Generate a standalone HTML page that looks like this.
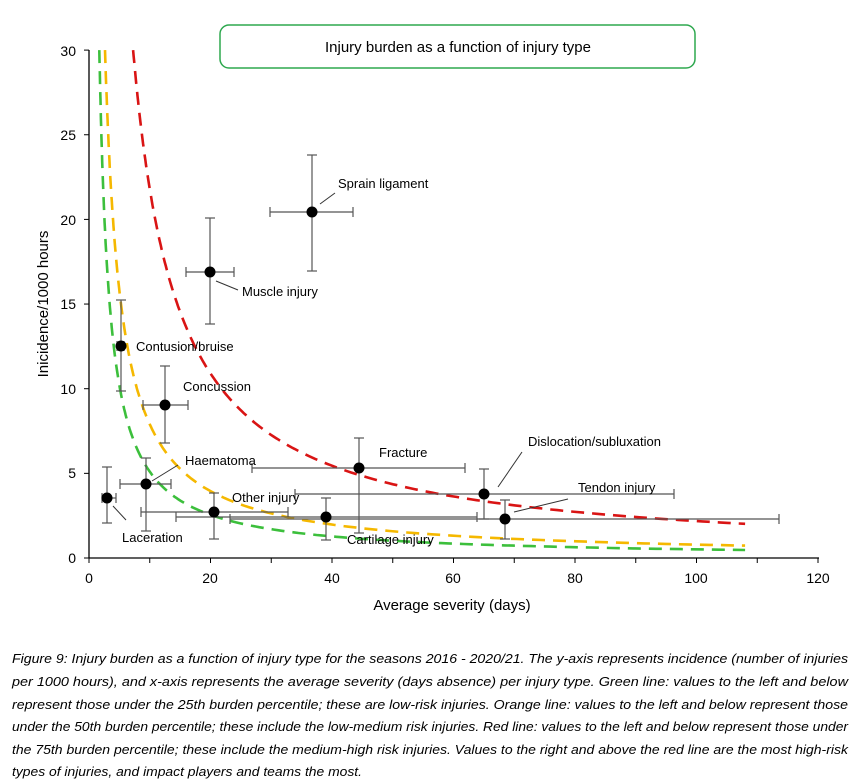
<!DOCTYPE html>
<html><head><meta charset="utf-8"><style>
body{margin:0;background:#fff;width:863px;height:779px;overflow:hidden}
svg{display:block}
text{font-family:"Liberation Sans",sans-serif;fill:#000}
</style></head><body>
<svg id="s" width="863" height="779" xmlns="http://www.w3.org/2000/svg">
<rect x="220" y="25" width="475" height="43" rx="9" fill="#fff" stroke="#2ea84f" stroke-width="1.5"/>
<text x="458" y="52" font-size="15" text-anchor="middle">Injury burden as a function of injury type</text>
<g stroke="#000" stroke-width="1.3" fill="none">
<line x1="89" y1="50" x2="89" y2="558"/>
<line x1="89" y1="558" x2="819" y2="558"/>
</g>
<g id="ticks" stroke="#000" stroke-width="1"></g>
<g font-size="14" text-anchor="end">
<text x="76" y="563">0</text><text x="76" y="478">5</text><text x="76" y="394">10</text>
<text x="76" y="309">15</text><text x="76" y="225">20</text><text x="76" y="140">25</text><text x="76" y="56">30</text>
</g>
<g font-size="14" text-anchor="middle">
<text x="89" y="583">0</text><text x="210" y="583">20</text><text x="332" y="583">40</text>
<text x="453" y="583">60</text><text x="575" y="583">80</text><text x="696" y="583">100</text><text x="818" y="583">120</text>
</g>
<text x="452" y="610" font-size="15" text-anchor="middle">Average severity (days)</text>
<text transform="translate(48,304) rotate(-90)" font-size="15" text-anchor="middle">Inicidence/1000 hours</text>
<path id="g" fill="none" stroke="#3cbf3c" stroke-width="2.6" stroke-dasharray="13,8"/>
<path id="o" fill="none" stroke="#f5b800" stroke-width="2.6" stroke-dasharray="13,8"/>
<path id="r" fill="none" stroke="#d91414" stroke-width="2.6" stroke-dasharray="13,8"/>
<g id="eb" stroke="#555" stroke-width="1.2" fill="none"></g>
<g id="pts" fill="#000"></g>
<g stroke="#333" stroke-width="1">
<line x1="113" y1="506" x2="126" y2="520"/>
<line x1="152" y1="481" x2="178" y2="465"/>
<line x1="216" y1="281" x2="238" y2="290"/>
<line x1="320" y1="204" x2="335" y2="193"/>
<line x1="498" y1="487" x2="522" y2="452"/>
<line x1="514" y1="512" x2="568" y2="499"/>
</g>
<g font-size="13">
<text x="338" y="188">Sprain ligament</text>
<text x="242" y="296">Muscle injury</text>
<text x="136" y="351">Contusion/bruise</text>
<text x="183" y="391">Concussion</text>
<text x="379" y="457">Fracture</text>
<text x="528" y="446">Dislocation/subluxation</text>
<text x="578" y="492">Tendon injury</text>
<text x="185" y="465">Haematoma</text>
<text x="232" y="502">Other injury</text>
<text x="122" y="542">Laceration</text>
<text x="347" y="544">Cartilage injury</text>
</g>
<g font-size="13" font-style="italic">
<text x="12" y="663" textLength="836" lengthAdjust="spacingAndGlyphs">Figure 9: Injury burden as a function of injury type for the seasons 2016 - 2020/21. The y-axis represents incidence (number of injuries</text>
<text x="12" y="686" textLength="836" lengthAdjust="spacingAndGlyphs">per 1000 hours), and x-axis represents the average severity (days absence) per injury type. Green line: values to the left and below</text>
<text x="12" y="709" textLength="836" lengthAdjust="spacingAndGlyphs">represent those under the 25th burden percentile; these are low-risk injuries. Orange line: values to the left and below represent those</text>
<text x="12" y="731" textLength="836" lengthAdjust="spacingAndGlyphs">under the 50th burden percentile; these include the low-medium risk injuries. Red line: values to the left and below represent those under</text>
<text x="12" y="754" textLength="836" lengthAdjust="spacingAndGlyphs">the 75th burden percentile; these include the medium-high risk injuries. Values to the right and above the red line are the most high-risk</text>
<text x="12" y="776" textLength="350" lengthAdjust="spacingAndGlyphs">types of injuries, and impact players and teams the most.</text>
</g>
</svg>
<script>
var NS="http://www.w3.org/2000/svg";
function X(v){return 89+v*6.075}function Y(v){return 558-v*16.93}
function curve(id,k){var x0=k/30,d="";for(var i=0;i<=200;i++){var x=x0*Math.pow(108/x0,i/200);d+=(i?"L":"M")+X(x).toFixed(1)+","+Y(k/x).toFixed(1)}document.getElementById(id).setAttribute("d",d)}
curve("g",51);curve("o",79);curve("r",218);
var t=document.getElementById("ticks");
function ln(p,a,b,c,d){var l=document.createElementNS(NS,"line");l.setAttribute("x1",a);l.setAttribute("y1",b);l.setAttribute("x2",c);l.setAttribute("y2",d);p.appendChild(l)}
for(var i=0;i<=6;i++){var y=Y(i*5);ln(t,84,y,89,y)}
for(var i=0;i<=12;i++){var x=X(i*10);ln(t,x,558,x,563)}
var eb=document.getElementById("eb"),pts=document.getElementById("pts");
var P=[[107,498,102,116,467,523],[146,484,120,171,458,531],[214,512,141,288,493,539],[326,517,176,477,498,540],
[505,519,230,779,500,539],[484,494,295,674,469,519],[359,468,252,465,438,533],[312,212,270,353,155,271],
[210,272,186,234,218,324],[121,346,117,124,300,391],[165,405,143,188,366,443]];
P.forEach(function(p){ln(eb,p[2],p[1],p[3],p[1]);ln(eb,p[2],p[1]-5,p[2],p[1]+5);ln(eb,p[3],p[1]-5,p[3],p[1]+5);
ln(eb,p[0],p[4],p[0],p[5]);ln(eb,p[0]-5,p[4],p[0]+5,p[4]);ln(eb,p[0]-5,p[5],p[0]+5,p[5]);
var c=document.createElementNS(NS,"circle");c.setAttribute("cx",p[0]);c.setAttribute("cy",p[1]);c.setAttribute("r",5.5);pts.appendChild(c)});
</script>
</body></html>
